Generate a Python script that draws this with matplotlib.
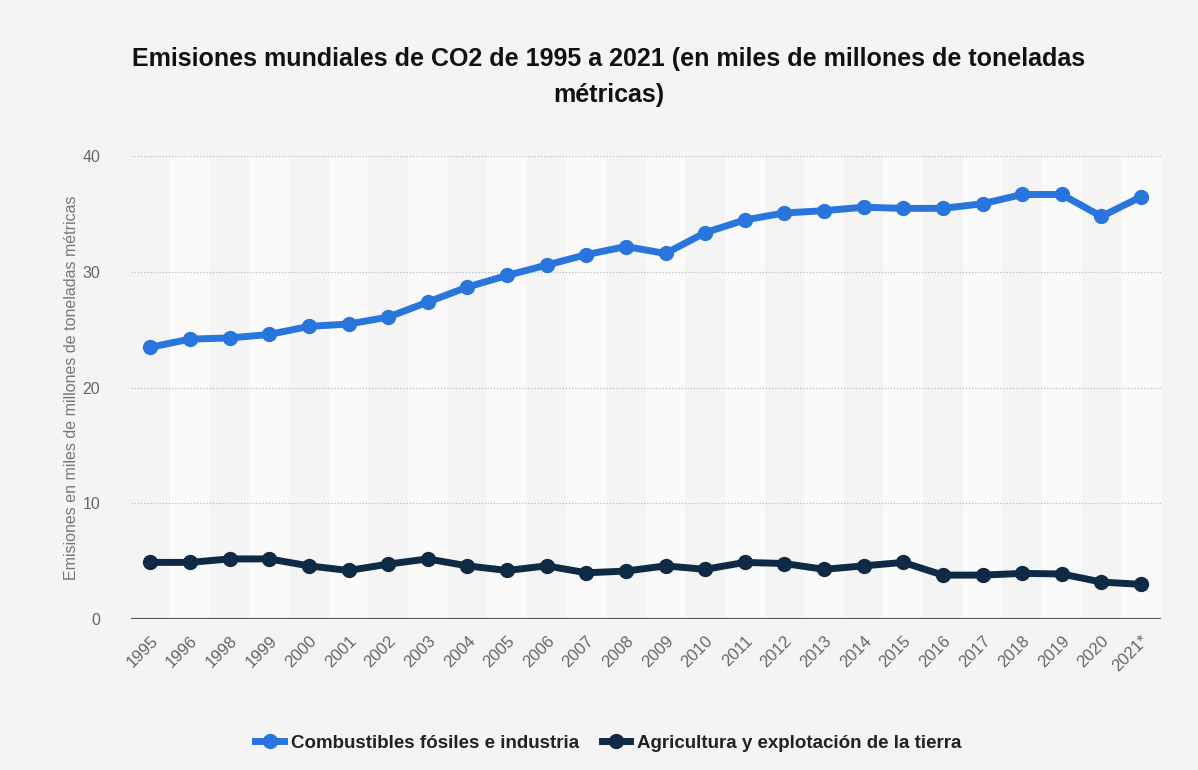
import matplotlib.pyplot as plt
import numpy as np

plt.rcParams['font.family'] = ['Liberation Sans', 'DejaVu Sans']

# datos (miles de millones de toneladas métricas)
years = ['1995', '1996', '1998', '1999', '2000', '2001', '2002', '2003', '2004',
         '2005', '2006', '2007', '2008', '2009', '2010', '2011', '2012', '2013',
         '2014', '2015', '2016', '2017', '2018', '2019', '2020', '2021*']
fossil = [23.5, 24.2, 24.3, 24.6, 25.3, 25.5, 26.1, 27.4, 28.7, 29.7, 30.6, 31.5,
          32.2, 31.6, 33.4, 34.5, 35.1, 35.3, 35.6, 35.5, 35.5, 35.9, 36.7, 36.7,
          34.8, 36.5]
land = [4.9, 4.9, 5.2, 5.2, 4.6, 4.2, 4.75, 5.2, 4.6, 4.2, 4.6, 4.0, 4.15, 4.6,
        4.3, 4.9, 4.8, 4.3, 4.6, 4.9, 3.8, 3.8, 3.95, 3.9, 3.2, 3.0]

blue = '#2876dd'
navy = '#0f2a45'
bg = '#f4f4f4'

fig = plt.figure(figsize=(11.98, 7.7), dpi=100, facecolor=bg)
ax = fig.add_axes([0.109, 0.196, 0.860, 0.601])
ax.set_facecolor(bg)

x = np.arange(len(years))

# franjas alternas
for i in x:
    if i % 2 == 1:
        ax.axvspan(i - 0.5, i + 0.5, color='#fafafa', zorder=0, lw=0)

for v in [10, 20, 30, 40]:
    ax.axhline(v, color='#bdbdbd', lw=0.9, ls=(0, (1, 1.5)), zorder=1)
ax.axhline(0, color='#555555', lw=1.5, zorder=2)

ax.plot(x, fossil, color=blue, lw=5, marker='o', ms=10, zorder=4,
        label='Combustibles fósiles e industria')
ax.plot(x, land, color=navy, lw=5, marker='o', ms=10, zorder=4,
        label='Agricultura y explotación de la tierra')

ax.set_xlim(-0.5, 25.5)
ax.set_ylim(0, 40)
ax.set_yticks([0, 10, 20, 30, 40])
ax.set_xticks(x)
ax.set_xticklabels(years, rotation=45, ha='right', rotation_mode='anchor',
                   color='#666666', fontsize=12)
ax.tick_params(axis='y', colors='#666666', labelsize=11.5, length=0, pad=22)
ax.tick_params(axis='x', length=0, pad=10)
for s in ax.spines.values():
    s.set_visible(False)

ax.set_ylabel('Emisiones en miles de millones de toneladas métricas',
              color='#777777', fontsize=11.5, labelpad=2)

fig.text(0.508, 0.924,
         'Emisiones mundiales de CO2 de 1995 a 2021 (en miles de millones de toneladas',
         ha='center', va='center', fontsize=18, fontweight='bold', color='#111111')
fig.text(0.508, 0.876, 'métricas)', ha='center', va='center', fontsize=18,
         fontweight='bold', color='#111111')

leg = fig.legend(loc='center', bbox_to_anchor=(0.508, 0.035), ncol=2, frameon=False,
                 handlelength=1.5, handletextpad=0.4, columnspacing=1.2,
                 prop={'weight': 'bold', 'size': 13.5})
for t in leg.get_texts():
    t.set_color('#222222')

fig.savefig('out.png', dpi=100, facecolor=bg)
